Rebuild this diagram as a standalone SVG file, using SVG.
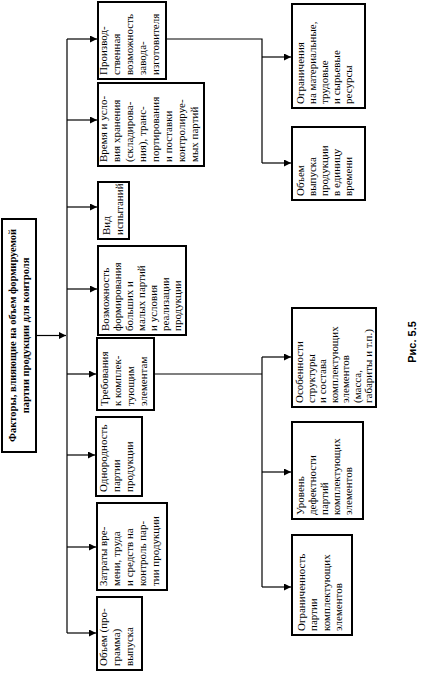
<svg xmlns="http://www.w3.org/2000/svg" width="421" height="673" viewBox="0 0 421 673">
<style>
.box{fill:#fff;stroke:#000;stroke-width:2}
.t{font-family:"Liberation Serif","Times New Roman",serif;font-size:11px;fill:#000}
.tb{font-family:"Liberation Serif","Times New Roman",serif;font-size:10.5px;font-weight:bold;fill:#000}
.c{fill:none;stroke:#000;stroke-width:1.2}
.cap{font-family:"Liberation Sans",Arial,sans-serif;font-size:11px;font-weight:bold;fill:#000}
</style>
<defs>
<marker id="ah" viewBox="0 0 10 10" refX="10" refY="5" markerWidth="7" markerHeight="7" markerUnits="userSpaceOnUse" orient="auto">
<path d="M0,0 L10,5 L0,10 z" fill="#000"/>
</marker>
</defs>
<rect width="421" height="673" fill="#fff"/>
<g id="connectors">
<path class="c" d="M36,335.5 H66" marker-end="url(#ah)"/>
<path class="c" d="M67,39 V633"/>
<path class="c" d="M67,39 H97" marker-end="url(#ah)"/>
<path class="c" d="M67,120 H97" marker-end="url(#ah)"/>
<path class="c" d="M67,207 H97" marker-end="url(#ah)"/>
<path class="c" d="M67,289 H97" marker-end="url(#ah)"/>
<path class="c" d="M67,374 H96" marker-end="url(#ah)"/>
<path class="c" d="M67,455 H95" marker-end="url(#ah)"/>
<path class="c" d="M67,547 H96" marker-end="url(#ah)"/>
<path class="c" d="M67,633 H96" marker-end="url(#ah)"/>
<path class="c" d="M166,39 H262 V163"/>
<path class="c" d="M262,57 H291" marker-end="url(#ah)"/>
<path class="c" d="M262,163 H291" marker-end="url(#ah)"/>
<path class="c" d="M154,374 H262"/>
<path class="c" d="M262,357 V587"/>
<path class="c" d="M262,357 H291" marker-end="url(#ah)"/>
<path class="c" d="M262,472 H291" marker-end="url(#ah)"/>
<path class="c" d="M262,587 H291" marker-end="url(#ah)"/>
</g>
<g id="root">
<rect class="box" x="2" y="219" width="34" height="233"/>
<text class="tb" transform="translate(16,335.5) rotate(-90)" text-anchor="middle"><tspan x="0" y="0">Факторы, влияющие на объем формируемой</tspan><tspan x="0" dy="13">партии продукции для контроля</tspan></text>
</g>
<g id="n1">
<rect class="box" x="98" y="2" width="68" height="77"/>
<text class="t" transform="translate(107,75) rotate(-90)"><tspan x="0" y="0">Производ-</tspan><tspan x="0" dy="13">ственная</tspan><tspan x="0" dy="13">возможность</tspan><tspan x="0" dy="13">завода-</tspan><tspan x="0" dy="13">изготовителя</tspan></text>
</g>
<g id="n2">
<rect class="box" x="98" y="83" width="106" height="83"/>
<text class="t" transform="translate(107,162) rotate(-90)"><tspan x="0" y="0">Время и усло-</tspan><tspan x="0" dy="13">вия хранения</tspan><tspan x="0" dy="13">(складирова-</tspan><tspan x="0" dy="13">ния), транс-</tspan><tspan x="0" dy="13">портирования</tspan><tspan x="0" dy="13">и поставки</tspan><tspan x="0" dy="13">контролируе-</tspan><tspan x="0" dy="13">мых партий</tspan></text>
</g>
<g id="n3">
<rect class="box" x="98" y="182" width="31" height="57"/>
<text class="t" transform="translate(110,235) rotate(-90)"><tspan x="0" y="0">Вид</tspan><tspan x="0" dy="13">испытаний</tspan></text>
</g>
<g id="n4">
<rect class="box" x="98" y="246" width="88" height="89"/>
<text class="t" transform="translate(109,331) rotate(-90)"><tspan x="0" y="0">Возможность</tspan><tspan x="0" dy="12">формирования</tspan><tspan x="0" dy="12">больших и</tspan><tspan x="0" dy="12">малых партий</tspan><tspan x="0" dy="12">и условия</tspan><tspan x="0" dy="12">реализации</tspan><tspan x="0" dy="12">продукции</tspan></text>
</g>
<g id="n5">
<rect class="box" x="97" y="338" width="57" height="72"/>
<text class="t" transform="translate(108,406) rotate(-90)"><tspan x="0" y="0">Требования</tspan><tspan x="0" dy="13">к комплек-</tspan><tspan x="0" dy="13">тующим</tspan><tspan x="0" dy="13">элементам</tspan></text>
</g>
<g id="n6">
<rect class="box" x="96" y="417" width="46" height="79"/>
<text class="t" transform="translate(107,492) rotate(-90)"><tspan x="0" y="0">Однородность</tspan><tspan x="0" dy="13">партии</tspan><tspan x="0" dy="13">продукции</tspan></text>
</g>
<g id="n7">
<rect class="box" x="97" y="503" width="70" height="87"/>
<text class="t" transform="translate(107,586) rotate(-90)"><tspan x="0" y="0">Затраты вре-</tspan><tspan x="0" dy="13">мени, труда</tspan><tspan x="0" dy="13">и средств на</tspan><tspan x="0" dy="13">контроль пар-</tspan><tspan x="0" dy="13">тии продукции</tspan></text>
</g>
<g id="n8">
<rect class="box" x="97" y="597" width="45" height="73"/>
<text class="t" transform="translate(107,666) rotate(-90)"><tspan x="0" y="0">Объем (про-</tspan><tspan x="0" dy="13">грамма)</tspan><tspan x="0" dy="13">выпуска</tspan></text>
</g>
<g id="r1">
<rect class="box" x="292" y="4" width="73" height="104"/>
<text class="t" transform="translate(304,104) rotate(-90)"><tspan x="0" y="0">Ограничения</tspan><tspan x="0" dy="12">на материальные,</tspan><tspan x="0" dy="12">трудовые</tspan><tspan x="0" dy="12">и сырьевые</tspan><tspan x="0" dy="12">ресурсы</tspan></text>
</g>
<g id="r2">
<rect class="box" x="292" y="127" width="73" height="73"/>
<text class="t" transform="translate(304,196) rotate(-90)"><tspan x="0" y="0">Объем</tspan><tspan x="0" dy="12">выпуска</tspan><tspan x="0" dy="12">продукции</tspan><tspan x="0" dy="12">в единицу</tspan><tspan x="0" dy="12">времени</tspan></text>
</g>
<g id="r3">
<rect class="box" x="292" y="308" width="84" height="99"/>
<text class="t" transform="translate(303,403) rotate(-90)"><tspan x="0" y="0">Особенности</tspan><tspan x="0" dy="11.5">структуры</tspan><tspan x="0" dy="11.5">и состава</tspan><tspan x="0" dy="11.5">комплектующих</tspan><tspan x="0" dy="11.5">элементов</tspan><tspan x="0" dy="11.5">(масса,</tspan><tspan x="0" dy="11.5">габариты и т.п.)</tspan></text>
</g>
<g id="r4">
<rect class="box" x="292" y="422" width="71" height="97"/>
<text class="t" transform="translate(304,515) rotate(-90)"><tspan x="0" y="0">Уровень</tspan><tspan x="0" dy="12">дефектности</tspan><tspan x="0" dy="12">партий</tspan><tspan x="0" dy="12">комплектующих</tspan><tspan x="0" dy="12">элементов</tspan></text>
</g>
<g id="r5">
<rect class="box" x="292" y="535" width="60" height="100"/>
<text class="t" transform="translate(305,631) rotate(-90)"><tspan x="0" y="0">Ограниченность</tspan><tspan x="0" dy="12.3">партии</tspan><tspan x="0" dy="12.3">комплектующих</tspan><tspan x="0" dy="12.3">элементов</tspan></text>
</g>
<text class="cap" transform="translate(416,342) rotate(-90)" text-anchor="middle">Рис. 5.5</text>
</svg>
